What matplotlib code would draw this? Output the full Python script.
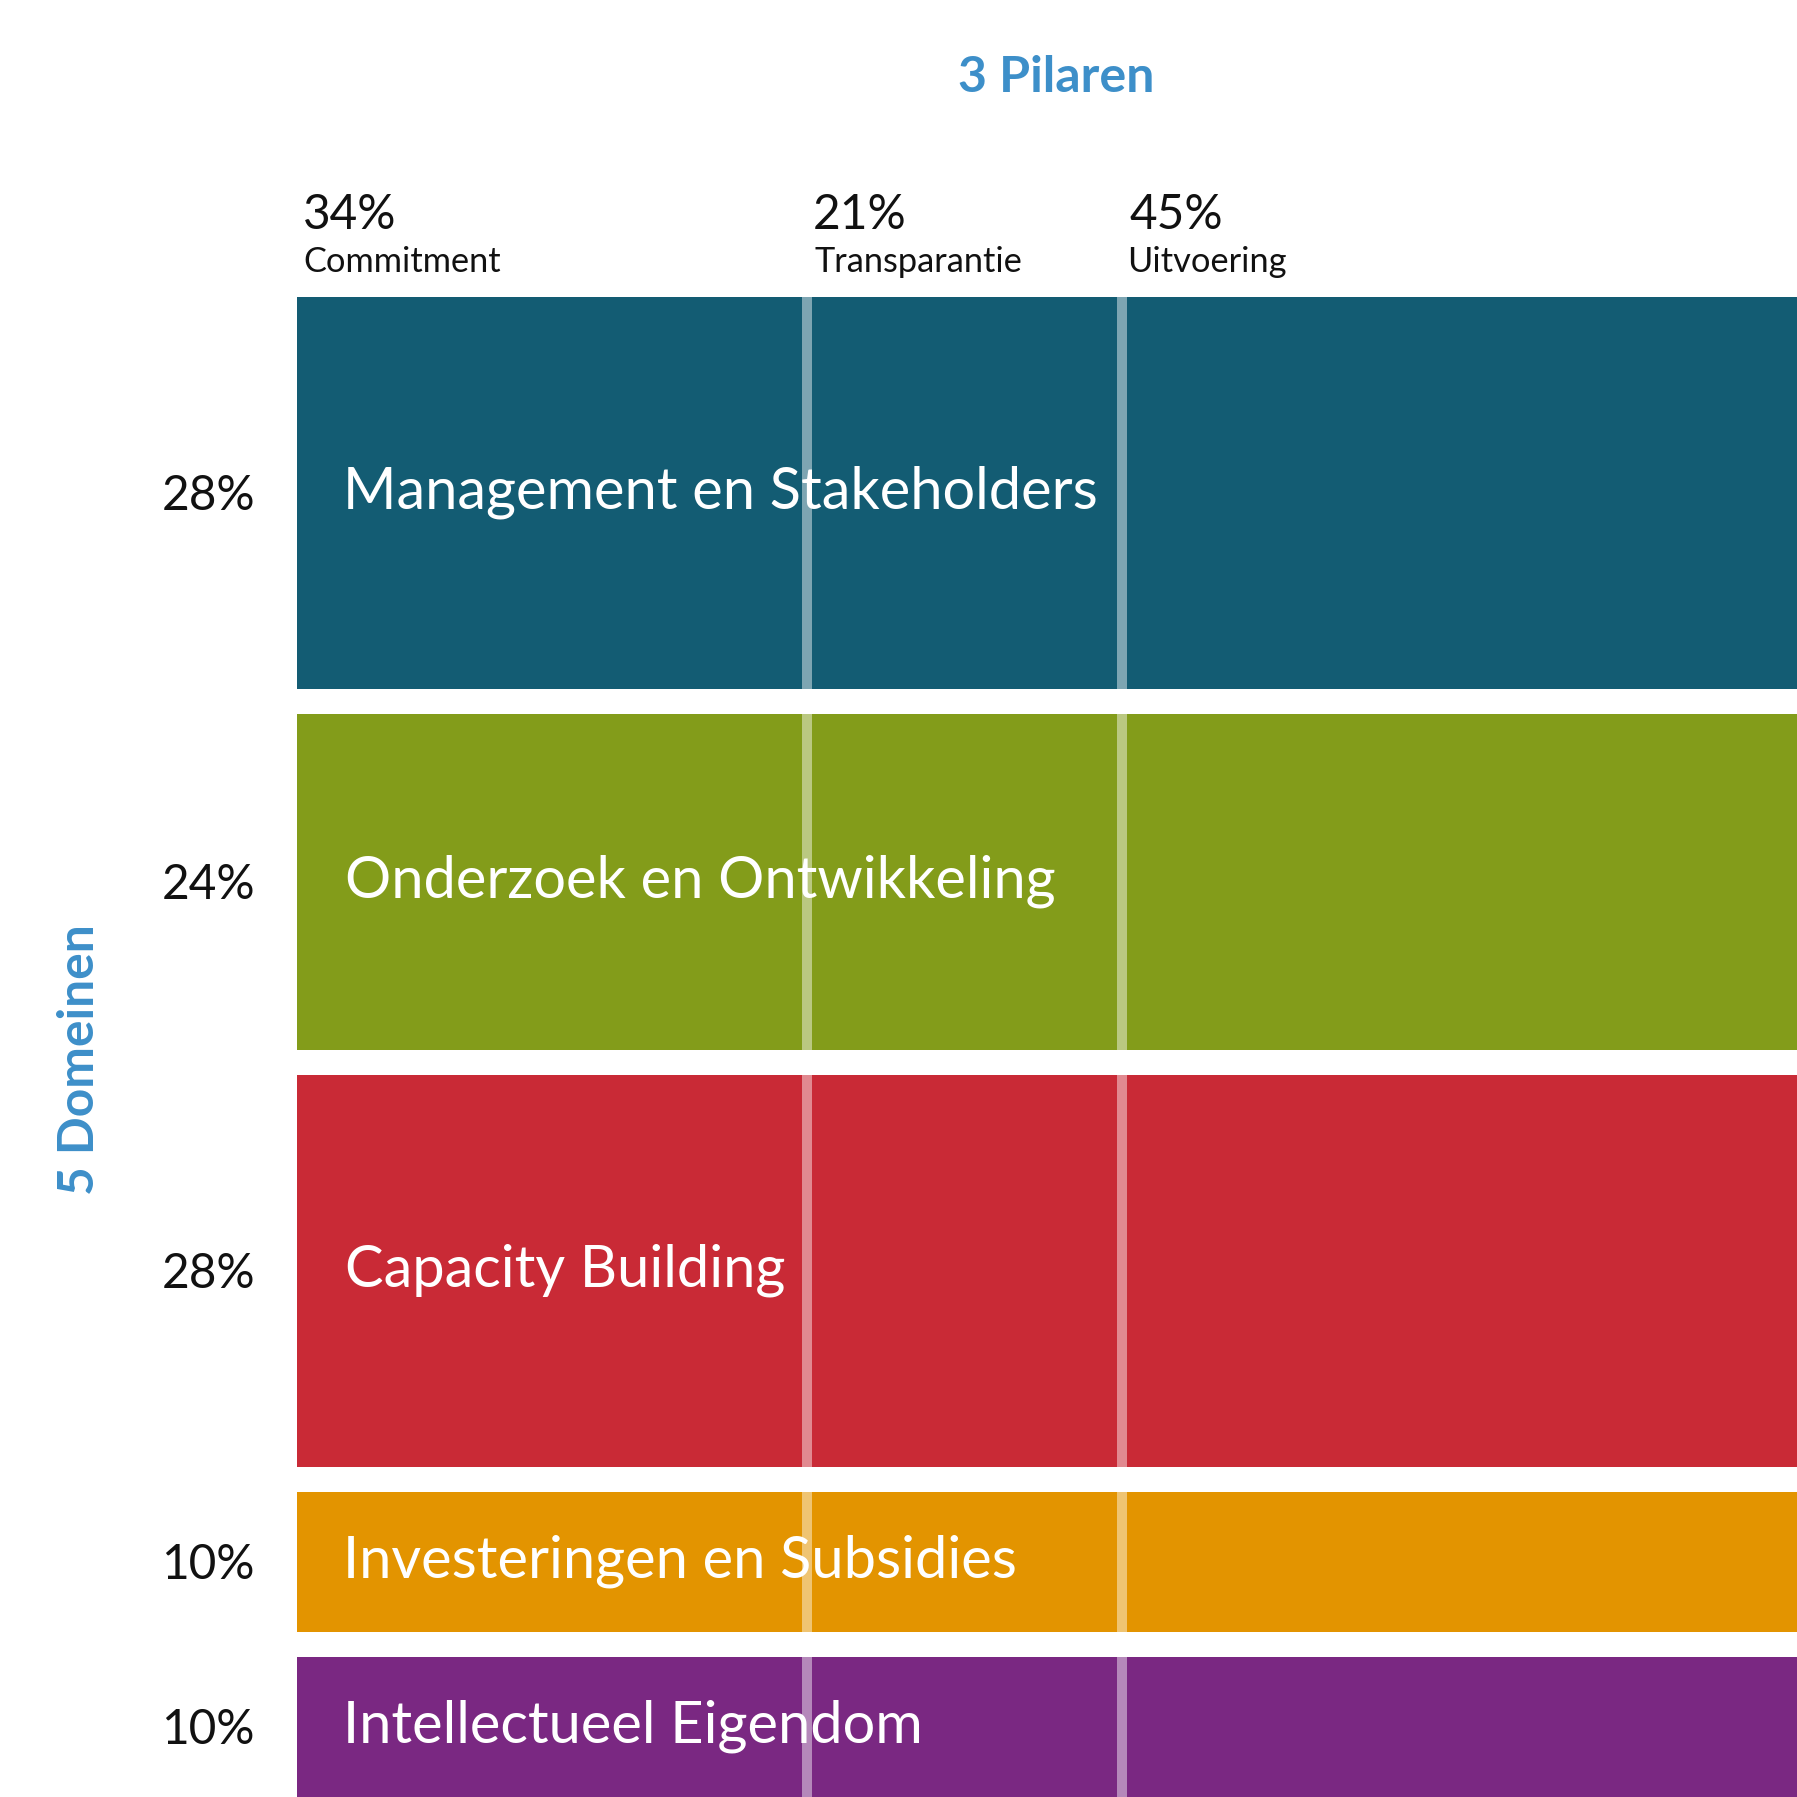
import matplotlib
matplotlib.use('Agg')
import matplotlib.pyplot as plt
from matplotlib.font_manager import FontProperties
from matplotlib.textpath import TextPath
import numpy as np

# ---------------- data ----------------
pillars = ['Commitment', 'Transparantie', 'Uitvoering']
pillar_pct = [34, 21, 45]
domains = ['Management en Stakeholders', 'Onderzoek en Ontwikkeling',
           'Capacity Building', 'Investeringen en Subsidies',
           'Intellectueel Eigendom']
domain_pct = [28, 24, 28, 10, 10]
domain_colors = ['#135c73', '#839c1a', '#c92a36', '#e39400', '#7a2882']
title_top = '3 Pilaren'
title_left = '5 Domeinen'

# ---------------- layout ----------------
W = 1797
DPI = 100
FONT = 'Lato'
BLUE = '#3d8fc9'
TXT = '#111111'

fig = plt.figure(figsize=(W / DPI, W / DPI), dpi=DPI)
fig.patch.set_facecolor('white')

AX_LEFT, AX_TOP = 297, 297
ax = fig.add_axes([AX_LEFT / W, 0, 1 - AX_LEFT / W, 1 - AX_TOP / W])
gap = 1.8
total = sum(domain_pct) + gap * (len(domain_pct) - 1)
ax.set_xlim(0, sum(pillar_pct))
ax.set_ylim(total, 0)
ax.axis('off')

tops = []
y = 0
for p in domain_pct:
    tops.append(y)
    y += p + gap
bottoms = [t + p for t, p in zip(tops, domain_pct)]
centers = [t + p / 2 for t, p in zip(tops, domain_pct)]
lefts = np.concatenate([[0], np.cumsum(pillar_pct)[:-1]])

for c, p, col in zip(centers, domain_pct, domain_colors):
    ax.barh([c] * len(pillar_pct), pillar_pct, left=lefts, height=p,
            color=col, edgecolor='none', linewidth=0)
for x in lefts[1:]:
    ax.vlines([x] * len(tops), tops, bottoms, colors='white', alpha=0.45,
              linewidth=7.2)


# ---------------- text helpers ----------------
def ink(s, weight='normal'):
    fp = FontProperties(family=FONT, weight=weight)
    return TextPath((0, 0), s, size=1, prop=fp).get_extents()


def fit_px(strings, targets, weight='normal'):
    w = sum(ink(s, weight).width for s in strings)
    return sum(targets) / w


def cap_px(size_px, weight='normal'):
    return ink('H', weight).height * size_px


def pt(px):
    return px * 72.0 / DPI


def put(x_px, base_px, s, size_px, weight='normal', color=TXT, ha='left', **kw):
    dx = 0
    if ha == 'left':
        dx = -ink(s, weight).x0 * size_px
    elif ha == 'right':
        e = ink(s, weight)
        dx = (e.x1 - e.x0) * 0  # anchor on text box
    fig.text((x_px + dx) / W, 1 - base_px / W, s, fontsize=pt(size_px),
             family=FONT, weight=weight, color=color, ha=ha, va='baseline', **kw)


# title top
s_title = fit_px([title_top], [192], 'bold')
put(1056, 92, title_top, s_title, weight='bold', color=BLUE, ha='center')

# title left (rotated)
s_left = fit_px([title_left], [266], 'bold')
fig.text(94 / W, 1 - 1060 / W, title_left, fontsize=pt(s_left), family=FONT,
         weight='bold', color=BLUE, ha='center', va='baseline', rotation=90,
         rotation_mode='anchor')

# pillar labels
px_per_unit = (W - AX_LEFT) / sum(pillar_pct)
pct_strings = [f'{v}%' for v in pillar_pct]
s_pct = fit_px(pct_strings, [90, 90, 90])
s_name = fit_px(pillars, [198, 203, 157])
for lft, ps, name in zip(lefts, pct_strings, pillars):
    xp = AX_LEFT + lft * px_per_unit + 8
    put(xp, 229, ps, s_pct)
    put(xp, 272, name, s_name)

# domain percentage labels (left) and names (inside)
s_row = fit_px(domains, [747, 698, 435, 667, 579])
cap_row = cap_px(s_row)
cap_pct = cap_px(s_pct)
for c, p, name in zip(centers, domain_pct, domains):
    cy = ax.transData.transform((0, c))[1]
    cy_top = fig.bbox.height - cy
    fig.text(255 / W, 1 - (cy_top + cap_pct / 2) / W, f'{p}%', fontsize=pt(s_pct),
             family=FONT, color=TXT, ha='right', va='baseline')
    put(348, cy_top + cap_row / 2 - 5, name, s_row, color='white')

fig.savefig('out.png', dpi=DPI, facecolor='white')
